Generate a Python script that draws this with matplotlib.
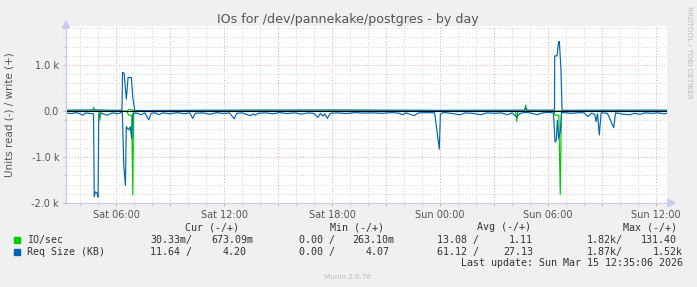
import matplotlib
matplotlib.use("Agg")
import matplotlib.pyplot as plt
from matplotlib.ticker import MultipleLocator, FixedLocator

# ---- data (time in hours since Sat 00:00) ----
blue_read_t = [3.22, 3.5, 3.8, 4.0, 4.17, 4.3, 4.6, 4.75, 4.79, 4.85, 4.94, 5.0, 5.04, 5.2, 5.5, 5.8,
               6.1, 6.3, 6.35, 6.43, 6.52, 6.57, 6.64, 6.71, 6.79, 6.87, 6.93, 7.1, 7.4, 7.6, 7.82,
               7.95, 8.2, 8.37, 8.6, 9.0, 9.4, 9.8, 10.1, 10.26, 10.4, 10.8, 11.2, 11.6, 12.0, 12.3,
               12.57, 12.7, 13.0, 13.3, 13.5, 13.6, 13.72, 13.9, 14.3, 14.7, 15.1, 15.5, 15.9, 16.3,
               16.7, 17.0, 17.22, 17.35, 17.5, 17.6, 17.74, 17.9, 18.3, 18.8, 19.3, 19.8, 20.3, 20.8,
               21.3, 21.7, 21.93, 22.1, 22.57, 22.8, 23.3, 23.7, 23.96, 24.02, 24.2, 24.6, 25.11,
               25.4, 25.8, 26.26, 26.6, 27.0, 27.4, 27.74, 28.0, 28.26, 28.45, 28.76, 29.0, 29.4,
               29.7, 30.0, 30.3, 30.39, 30.46, 30.52, 30.59, 30.68, 30.76, 31.0, 31.3, 31.7, 32.0,
               32.22, 32.4, 32.6, 32.67, 32.75, 32.85, 32.95, 33.3, 33.65, 33.75, 34.2, 34.56, 34.8,
               35.11, 35.4, 35.8, 36.1, 36.43, 36.61]
blue_read_v = [40, 55, 35, 60, 90, 40, 55, 60, 1860, 1760, 1780, 1870, 70, 50, 90, 40,
               60, 30, 40, 1190, 1620, 340, 380, 410, 340, 600, 60, 40, 80, 40, 190,
               50, 40, 80, 40, 60, 35, 60, 40, 160, 50, 40, 70, 35, 55, 40,
               170, 50, 40, 80, 100, 60, 90, 50, 40, 60, 35, 55, 40, 65,
               40, 55, 140, 50, 110, 60, 160, 50, 40, 55, 35, 45, 40, 50,
               35, 45, 80, 40, 100, 40, 35, 40, 830, 70, 30, 50, 80,
               40, 50, 80, 40, 50, 40, 80, 40, 130, 50, 30, 40, 80,
               40, 30, 40, 670, 640, 200, 600, 450, 30, 40, 50, 35, 40,
               120, 50, 70, 230, 60, 520, 40, 50, 360, 40, 70, 80, 50,
               70, 40, 50, 40, 60, 50]

blue_write_t = [3.22, 5.0, 6.0, 6.33, 6.36, 6.45, 6.57, 6.67, 6.85, 6.93, 7.04, 12.0, 18.0, 24.0,
                28.7, 28.76, 28.85, 30.36, 30.37, 30.5, 30.59, 30.63, 30.72, 30.78, 33.0, 36.61]
blue_write_v = [20, 25, 15, 20, 840, 820, 260, 730, 730, 310, 10, 20, 25, 15,
                20, 70, 20, 20, 1200, 1200, 1510, 1510, 890, 15, 20, 20]

green_read_t = [3.22, 4.7, 5.05, 5.1, 5.15, 6.6, 6.7, 6.87, 6.93, 6.98, 12.0, 18.0, 24.0, 28.2,
                28.26, 28.32, 30.35, 30.39, 30.6, 30.68, 30.74, 36.61]
green_read_v = [5, 5, 5, 200, 10, 5, 90, 90, 1820, 10, 8, 8, 8, 8,
                230, 8, 5, 90, 90, 1820, 10, 8]

green_write_t = [3.22, 4.7, 4.76, 4.82, 6.65, 6.7, 6.9, 6.95, 16.1, 16.17, 16.24, 28.7, 28.76,
                 28.82, 36.61]
green_write_v = [1, 1, 80, 1, 1, 30, 30, 1, 1, 15, 1, 1, 130, 1, 1]

x_tick_hours = [6, 12, 18, 24, 30, 36]
x_tick_labels = ["Sat 06:00", "Sat 12:00", "Sat 18:00", "Sun 00:00", "Sun 06:00", "Sun 12:00"]
y_tick_values = [-2000, -1000, 0, 1000]
y_tick_labels = ["-2.0 k", "-1.0 k", "0.0", "1.0 k"]

legend_names = ["IO/sec", "Req Size (KB)"]
legend_colors = ["#00CC00", "#0066B3"]
cur_vals = [("30.33m/", "673.09m"), ("11.64 /", "4.20")]
min_vals = [("0.00 /", "263.10m"), ("0.00 /", "4.07")]
avg_vals = [("13.08 /", "1.11"), ("61.12 /", "27.13")]
max_vals = [("1.82k/", "131.40"), ("1.87k/", "1.52k")]

W, H = 697, 287
fig = plt.figure(figsize=(W / 100, H / 100), dpi=100, facecolor="#F0F0F0")


def P(x, y):
    return x / W, 1 - y / H


L, R, T, B = 66, 667, 26, 203
ax = fig.add_axes([L / W, 1 - B / H, (R - L) / W, (B - T) / H])
ax.set_facecolor("white")
ax.set_xlim(3.22, 36.61)
ax.set_ylim(-2000, 1850)
for s in ax.spines.values():
    s.set_visible(False)

# grid
major_x = list(range(6, 37, 3))
ax.xaxis.set_major_locator(FixedLocator(major_x))
ax.set_xticklabels([x_tick_labels[x_tick_hours.index(h)] if h in x_tick_hours else "" for h in major_x])
ax.xaxis.set_minor_locator(MultipleLocator(1))
ax.yaxis.set_major_locator(FixedLocator(y_tick_values))
ax.set_yticklabels(y_tick_labels)
ax.yaxis.set_minor_locator(MultipleLocator(200))
ax.grid(which="minor", color="#D0D0D0", linestyle=(0, (1, 2)), linewidth=0.7)
ax.grid(which="major", color="#E4A4A4", linestyle=(0, (1, 2)), linewidth=0.7)
ax.set_axisbelow(True)
ax.tick_params(which="both", length=2, width=0.7, colors="#555555", labelsize=7, pad=3)
ax.tick_params(which="major", color="#E4A4A4")
ax.tick_params(which="minor", color="#D0D0D0")

# data lines
ax.plot(green_read_t, [-v for v in green_read_v], color="#00CC00", lw=0.85, zorder=3)
ax.plot(green_write_t, green_write_v, color="#00CC00", lw=0.85, zorder=3)
ax.plot(blue_read_t, [-v for v in blue_read_v], color="#0066B3", lw=0.85, zorder=4)
ax.plot(blue_write_t, blue_write_v, color="#0066B3", lw=0.85, zorder=4)
ax.axhline(0, color="black", lw=0.8, zorder=5)

# axis lines with arrows
axc = "#C8C8F0"
fig.add_artist(matplotlib.lines.Line2D([L / W, L / W], [1 - B / H, 1 - 27 / H], color=axc, lw=0.8))
fig.add_artist(matplotlib.lines.Line2D([L / W, 669 / W], [1 - B / H, 1 - B / H], color=axc, lw=0.8))
fig.add_artist(matplotlib.patches.Polygon([P(L - 3.5, 28), P(L + 3.5, 28), P(L, 21)], closed=True,
                                          color=axc, transform=fig.transFigure))
fig.add_artist(matplotlib.patches.Polygon([P(668, B - 3.5), P(668, B + 3.5), P(675, B)], closed=True,
                                          color=axc, transform=fig.transFigure))

# titles
fig.text(*P(348, 19), "IOs for /dev/pannekake/postgres - by day", ha="center", va="center",
         fontsize=9.1, color="#555555")
fig.text(*P(10, 115), "Units read (-) / write (+)", ha="center", va="center", rotation=90,
         fontsize=7.5, color="#555555")
fig.text(*P(689, 52), "RRDTOOL / TOBI OETIKER", ha="center", va="center", rotation=270,
         fontsize=5.2, color="#BBBBBB")
fig.text(*P(348, 277), "Munin 2.0.76", ha="center", va="center", fontsize=5.2, color="#BBBBBB")

# legend
mono = dict(family="DejaVu Sans Mono", fontsize=7.2, color="#333333", va="center")
fig.text(*P(185, 227), "Cur (-/+)", ha="left", **mono)
fig.text(*P(330, 227), "Min (-/+)", ha="left", **mono)
fig.text(*P(477, 227), "Avg (-/+)", ha="left", **mono)
fig.text(*P(623, 227), "Max (-/+)", ha="left", **mono)
rows_y = [240, 252]
right_ends = [[253, 394, 533, 677], [247, 390, 533, 683]]
for i in range(2):
    y = rows_y[i]
    fig.patches.append(matplotlib.patches.Rectangle(P(14, y + 3), 6 / W, 6 / H, color=legend_colors[i],
                                                    transform=fig.transFigure))
    fig.text(*P(27, y), legend_names[i], ha="left", **mono)
    for (a, b), lx, rx in zip([cur_vals[i], min_vals[i], avg_vals[i], max_vals[i]],
                              [150, 299, 437, 587], right_ends[i]):
        fig.text(*P(lx, y), a, ha="left", **mono)
        fig.text(*P(rx, y), b, ha="right", **mono)
fig.text(*P(683, 263), "Last update: Sun Mar 15 12:35:06 2026", ha="right", **mono)

fig.savefig("out.png", dpi=100, facecolor=fig.get_facecolor())
